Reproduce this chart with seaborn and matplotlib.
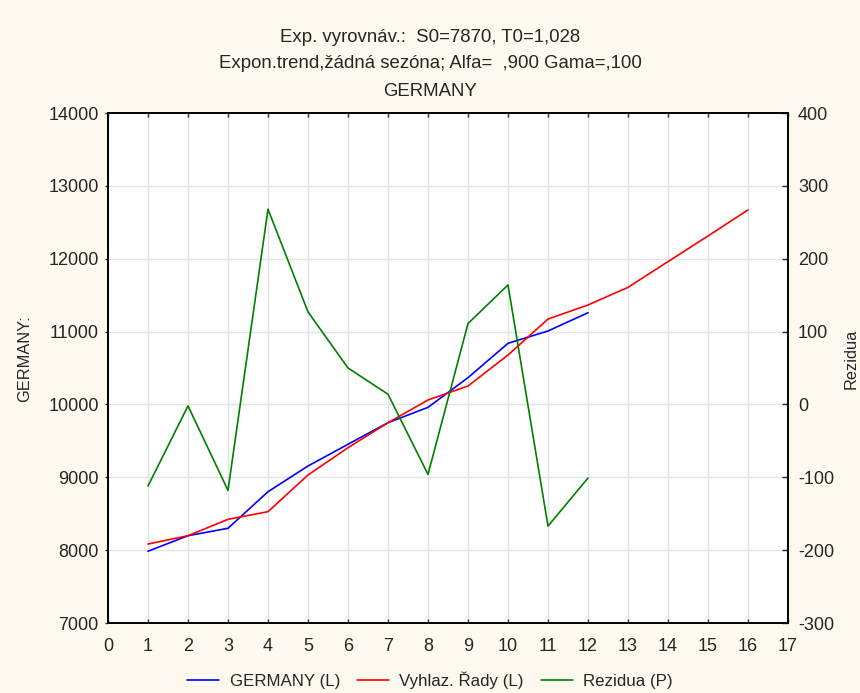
import matplotlib
matplotlib.use("Agg")
import matplotlib.pyplot as plt
import seaborn as sns
import pandas as pd

# Data
x_obs = list(range(1, 13))
x_fit = list(range(1, 17))
germany = [7985, 8198, 8300, 8802, 9155, 9453, 9749, 9960, 10367, 10839, 11008, 11259]
smoothed = [8084, 8198, 8423, 8528, 9031, 9406, 9749, 10061, 10253, 10678, 11172, 11365,
            11607, 11960, 12312, 12670]
residuals = [-112, -2, -118, 268, 127, 50, 14, -96, 111, 164, -167, -101]

left_ticks = [7000, 8000, 9000, 10000, 11000, 12000, 13000, 14000]
right_ticks = [-300, -200, -100, 0, 100, 200, 300, 400]
x_ticks = list(range(0, 18))

title_lines = ["Exp. vyrovnáv.:  S0=7870, T0=1,028",
               "Expon.trend,žádná sezóna; Alfa=  ,900 Gama=,100",
               "GERMANY"]
labels = ["GERMANY (L)", "Vyhlaz. Řady (L)", "Rezidua (P)"]
left_label = "GERMANY:"
right_label = "Rezidua"

sns.set_style("white")
plt.rcParams['font.family'] = ['Liberation Sans', 'DejaVu Sans']
plt.rcParams['axes.unicode_minus'] = False

W, H = 860, 693
bg = '#FDF9EF'
fig = plt.figure(figsize=(W / 100, H / 100), dpi=100, facecolor=bg)
ax = fig.add_axes([108 / W, 1 - 623 / H, 680 / W, 510 / H])
ax.set_facecolor('white')
ax2 = ax.twinx()

df_obs = pd.DataFrame({"x": x_obs, "y": germany})
df_fit = pd.DataFrame({"x": x_fit, "y": smoothed})
df_res = pd.DataFrame({"x": x_obs, "y": residuals})

sns.lineplot(data=df_obs, x="x", y="y", ax=ax, color='#0000FF', linewidth=1.2, label=labels[0], legend=False)
sns.lineplot(data=df_fit, x="x", y="y", ax=ax, color='#FF0000', linewidth=1.2, label=labels[1], legend=False)
sns.lineplot(data=df_res, x="x", y="y", ax=ax2, color='#008000', linewidth=1.2, label=labels[2], legend=False)

ax.set_xlim(0, 17)
ax.set_ylim(7000, 14000)
ax2.set_ylim(-300, 400)
ax.set_xticks(x_ticks)
ax.set_yticks(left_ticks)
ax2.set_yticks(right_ticks)
ax.grid(True, color='#E3E3E3', linewidth=1)
ax2.grid(False)
ax.set_axisbelow(True)

ax.set_xlabel("")
ax.set_ylabel("")
ax2.set_ylabel("")

for a in (ax, ax2):
    for s in a.spines.values():
        s.set_visible(True)
        s.set_color('black')
        s.set_linewidth(1.2)

ax.tick_params(axis='y', which='both', left=True, direction='out', length=2, width=1, labelsize=13, pad=4.7)
ax.tick_params(axis='x', which='both', bottom=True, top=True, direction='in', length=3, width=1, labelsize=13, pad=10.5)
ax2.tick_params(axis='y', right=True, direction='in', length=4, width=1, labelsize=13, pad=7.2)

fig.text(0.5, 1 - 37 / H, title_lines[0], ha='center', va='center', fontsize=13.4)
fig.text(0.5, 1 - 63 / H, title_lines[1], ha='center', va='center', fontsize=13.4)
fig.text(0.5, 1 - 91 / H, title_lines[2], ha='center', va='center', fontsize=13.4)

fig.text(25 / W, 1 - 359 / H, left_label, rotation=90, ha='center', va='center', fontsize=11.8)
fig.text(851 / W, 1 - 359 / H, right_label, rotation=90, ha='center', va='center', fontsize=11.8)

h1, l1 = ax.get_legend_handles_labels()
h2, l2 = ax2.get_legend_handles_labels()
fig.legend(h1 + h2, l1 + l2, loc='center', bbox_to_anchor=(0.5, 1 - 680 / H), ncol=3,
           frameon=False, fontsize=12.2, handlelength=1.9, columnspacing=1.0, handletextpad=0.6)

fig.savefig("out.png", dpi=100, facecolor=bg)
